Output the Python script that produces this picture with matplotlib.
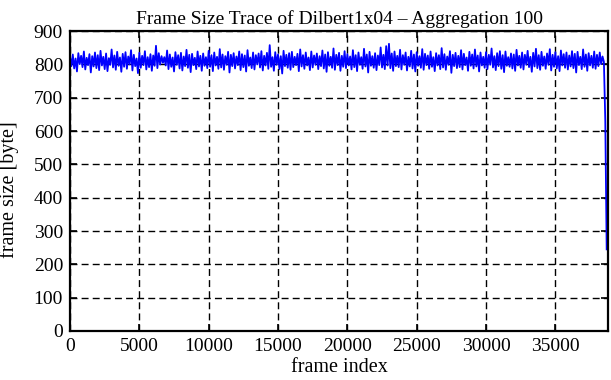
import matplotlib
matplotlib.use("Agg")
import matplotlib.pyplot as plt
import numpy as np

plt.rcParams["font.family"] = ["Liberation Serif", "DejaVu Serif"]
plt.rcParams["font.size"] = 14

# aggregated frame sizes (mean of 100 frames each)
frame_size = [
    822, 795, 830, 788, 818, 779, 834, 801, 826, 792, 839, 785, 820, 798, 831, 776, 825, 794, 836, 789,
    828, 783, 841, 797, 823, 786, 833, 780, 819, 799, 845, 791, 827, 784, 838, 796, 821, 778, 832, 793,
    837, 787, 824, 800, 843, 782, 829, 795, 818, 774, 835, 790, 826, 798, 840, 785, 822, 792, 831, 781,
    827, 796, 856, 789, 834, 800, 825, 805, 822, 797, 842, 786, 830, 793, 821, 779, 837, 799, 828, 788,
    835, 782, 824, 795, 844, 790, 829, 777, 832, 798, 820, 786, 839, 794, 826, 781, 833, 796, 822, 789,
    841, 793, 828, 780, 836, 797, 823, 787, 846, 791, 830, 784, 825, 799, 838, 776, 829, 795, 834, 788,
    824, 798, 839, 783, 831, 792, 827, 779, 843, 796, 821, 789, 836, 785, 828, 800, 833, 791, 840, 782,
    826, 797, 835, 787, 858, 793, 822, 781, 837, 799, 830, 786, 825, 773, 841, 795, 829, 790, 834, 784,
    838, 792, 823, 798, 832, 780, 845, 794, 828, 787, 836, 797, 821, 783, 839, 791, 827, 799, 833, 786,
    825, 795, 842, 788, 830, 778, 837, 796, 823, 790, 848, 784, 829, 798, 835, 781, 826, 793, 840, 789,
    831, 797, 824, 785, 843, 792, 828, 780, 836, 799, 822, 787, 847, 794, 830, 776, 838, 796, 825, 790,
    834, 783, 827, 798, 851, 791, 829, 786, 855, 797, 862, 789, 833, 781, 839, 795, 826, 792, 844, 785,
    828, 799, 836, 782, 823, 794, 841, 788, 830, 779, 837, 796, 825, 790, 846, 784, 832, 798, 827, 787,
    839, 793, 822, 780, 834, 797, 828, 786, 849, 791, 831, 784, 824, 799, 840, 775, 829, 795, 835, 789,
    826, 792, 843, 785, 832, 798, 821, 781, 838, 796, 830, 788, 845, 794, 827, 779, 836, 797, 823, 790,
    837, 786, 829, 799, 848, 791, 825, 783, 834, 795, 840, 787, 828, 777, 839, 796, 822, 793, 833, 788,
    830, 781, 844, 797, 826, 790, 836, 785, 829, 799, 841, 792, 823, 778, 835, 794, 847, 789, 828, 784,
    838, 796, 824, 787, 833, 799, 846, 782, 829, 793, 837, 788, 825, 780, 842, 797, 831, 790, 836, 785,
    827, 794, 840, 789, 832, 776, 838, 798, 823, 786, 845, 793, 830, 781, 834, 797, 826, 790, 839, 787,
    829, 795, 836, 801, 824, 808, 630, 245,
]
aggregation = 100
frame_index = np.arange(len(frame_size)) * aggregation

xticks = [0, 5000, 10000, 15000, 20000, 25000, 30000, 35000]
yticks = [0, 100, 200, 300, 400, 500, 600, 700, 800, 900]

fig = plt.figure(figsize=(6.11, 3.8), dpi=100)
ax = fig.add_axes([0.1146, 0.129, 0.8806, 0.789])

ax.plot(frame_index, frame_size, color="#0000ff", lw=1.3)

ax.set_xlim(0, 38800)
ax.set_ylim(0, 900)
ax.set_xticks(xticks)
ax.set_yticks(yticks)
ax.tick_params(direction="in", top=True, right=True, length=5, width=1.2, pad=5)
ax.grid(True, color="black", linestyle=(0, (5, 3)), linewidth=1.0)
for s in ax.spines.values():
    s.set_linewidth(1.6)

ax.set_title("Frame Size Trace of Dilbert1x04 \u2013 Aggregation 100", fontsize=14, pad=5)
ax.set_xlabel("frame index", fontsize=14.5, labelpad=2)
ax.set_ylabel("frame size [byte]", fontsize=14.5)
ax.yaxis.set_label_coords(-0.094, 0.472)

fig.savefig("out.png", dpi=100)
